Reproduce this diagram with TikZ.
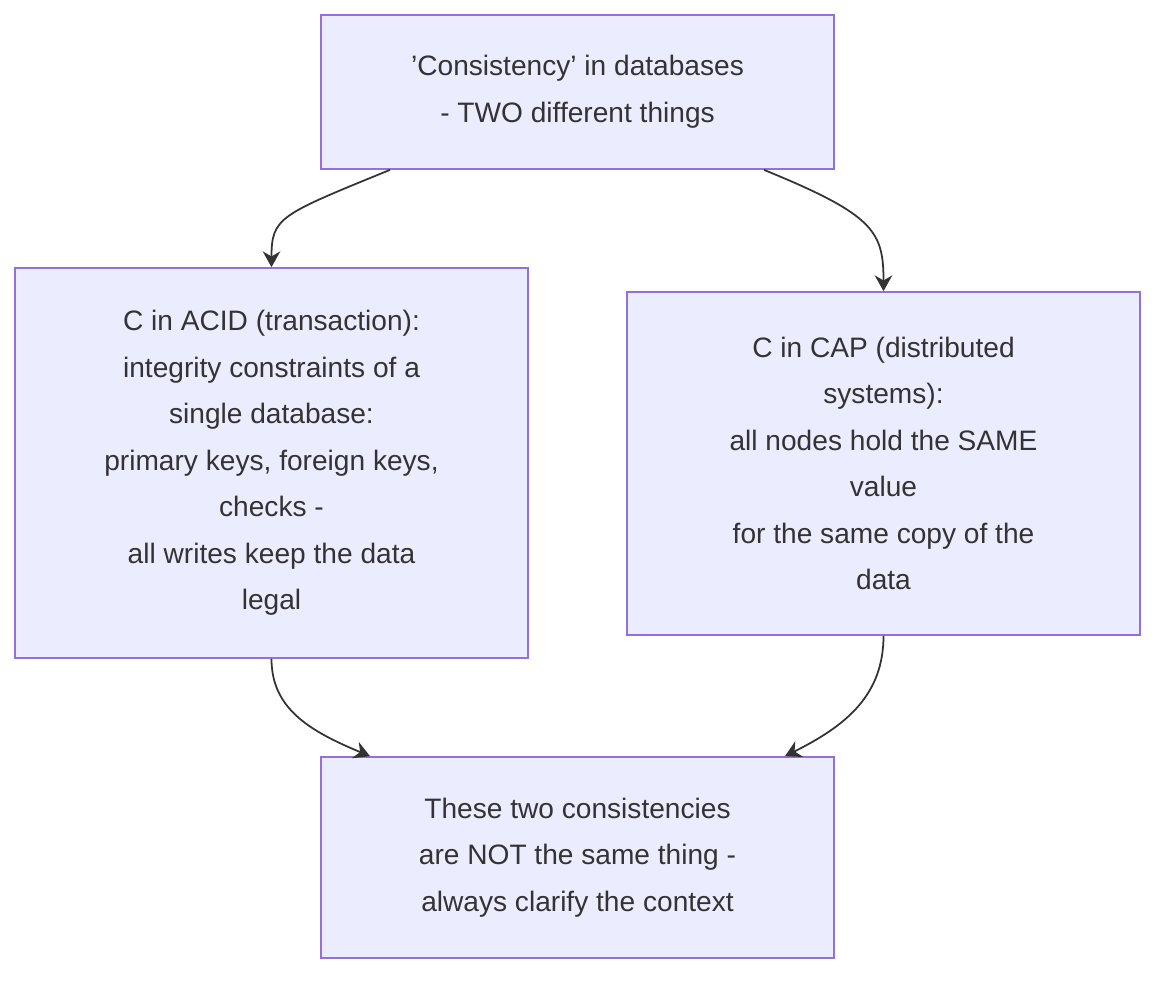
\documentclass[tikz,border=0pt]{standalone}
\usepackage{fontspec}
\setmainfont{Liberation Sans}
\usetikzlibrary{arrows.meta,calc}
\definecolor{boxfill}{HTML}{ECECFF}
\definecolor{boxline}{HTML}{9370DB}
\definecolor{ink}{HTML}{333333}
\tikzset{
  card/.style={draw=boxline, fill=boxfill, line width=1pt, align=center, text=ink,
    font=\fontsize{16}{26.5}\selectfont, inner sep=0pt},
  link/.style={draw=ink, line width=1pt, -{Stealth[length=9pt,width=10pt]}}
}
\begin{document}
\begin{tikzpicture}[x=0.02cm,y=-0.02cm]
  \useasboundingbox (0,0) rectangle (1172,988);

  \node[card, minimum width=10.26cm, minimum height=3.08cm] (top) at (577.5,92)
    {'Consistency' in databases\\ - TWO different things};
  \node[card, minimum width=10.26cm, minimum height=7.8cm] (acid) at (271.5,463)
    {C in ACID (transaction):\\integrity constraints of a\\ single database:\\primary keys, foreign keys,\\checks -\\all writes keep the data\\legal};
  \node[card, minimum width=10.26cm, minimum height=6.86cm] (cap) at (883.5,463.5)
    {C in CAP (distributed\\systems):\\all nodes hold the SAME\\value\\for the same copy of the\\data};
  \node[card, minimum width=10.26cm, minimum height=4.02cm] (note) at (577.5,857.5)
    {These two consistencies\\are NOT the same thing -\\always clarify the context};

  % edges
  \draw[link] ($(top.south)+(-187.5,0)$) .. controls +(-110,45) and +(0,-50) .. (acid.north);
  \draw[link] ($(top.south)+(186.5,0)$) .. controls +(110,45) and +(0,-60) .. (cap.north);
  \draw[link] (acid.south) .. controls +(0,50) and +(-60,-25) .. ($(note.north)+(-207.5,0)$);
  \draw[link] (cap.south) .. controls +(0,60) and +(60,-30) .. ($(note.north)+(207.5,0)$);
\end{tikzpicture}
\end{document}
